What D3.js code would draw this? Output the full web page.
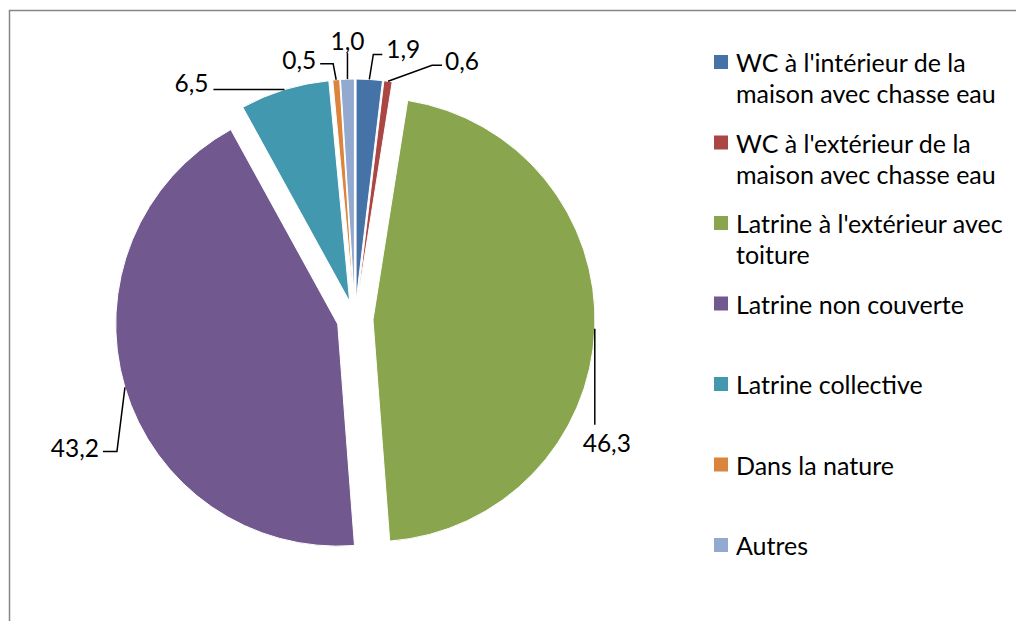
<!DOCTYPE html>
<html>
<head>
<meta charset="utf-8">
<script src="https://cdn.jsdelivr.net/npm/d3@7"></script>
<style>
  body { margin: 0; background: #fff; }
  svg { display: block; }
  text { font-family: Lato, "Noto Sans", sans-serif; fill: #000; }
</style>
</head>
<body>
<div id="chart"></div>
<script>
// Data (percentages)
const categories = [
    "WC à l'intérieur de la maison avec chasse eau",
    "WC à l'extérieur de la maison avec chasse eau",
    "Latrine à l'extérieur avec toiture",
    "Latrine non couverte",
    "Latrine collective",
    "Dans la nature",
    "Autres"
];
const values = [1.9, 0.6, 46.3, 43.2, 6.5, 0.5, 1.0];
const valueLabels = ["1,9", "0,6", "46,3", "43,2", "6,5", "0,5", "1,0"];
const colors = ["#4572A7", "#AA4643", "#89A54E", "#71588F", "#4198AF", "#DB843D", "#93A9CF"];

// leader line layout, relative to the outer middle point of each slice
// bend / end are offsets, text is placed from the end point
const leaderLayout = [
    { bend: [4, -25], end: [13, -25], text: [4, -6], anchor: "start" },
    { bend: [44, -16], end: [54, -16], text: [3, -5], anchor: "start" },
    { bend: [0, 48], end: [0, 96], text: [12, 18], anchor: "middle" },
    { bend: [-8, 64], end: [-22, 64], text: [-4, -4], anchor: "end" },
    { bend: [-35, 0], end: [-71, 0], text: [-5, -7], anchor: "end" },
    { bend: [-3, -16], end: [-16, -16], text: [-4, -4], anchor: "end" },
    { bend: [0, -13], end: [0, -26], text: [0, -13], anchor: "middle" }
];

const width = 1016, height = 621;
const cx = 355, cy = 319, radius = 222, explode = 18;

const svg = d3.select("#chart").append("svg")
    .attr("width", width)
    .attr("height", height);

// chart frame (runs past the right and bottom edges)
svg.append("rect")
    .attr("x", 9.5)
    .attr("y", 10.5)
    .attr("width", 1200)
    .attr("height", 800)
    .attr("fill", "none")
    .attr("stroke", "#868686")
    .attr("stroke-width", 1.5);

const pie = d3.pie().sort(null).value(d => d);
const arcs = pie(values);
const arc = d3.arc().innerRadius(0).outerRadius(radius);

const mid = d => (d.startAngle + d.endAngle) / 2;

const g = svg.append("g").attr("transform", `translate(${cx},${cy})`);

g.selectAll("path.slice")
    .data(arcs)
    .join("path")
    .attr("class", "slice")
    .attr("d", arc)
    .attr("transform", d => {
        const a = mid(d);
        return `translate(${Math.sin(a) * explode},${-Math.cos(a) * explode})`;
    })
    .attr("fill", (d, i) => colors[i])
    .attr("stroke", "#fff")
    .attr("stroke-width", 1);

// data labels with leader lines
arcs.forEach((d, i) => {
    const a = mid(d);
    const r = radius + explode;
    const x0 = Math.sin(a) * r, y0 = -Math.cos(a) * r;
    const lay = leaderLayout[i];
    const x1 = x0 + lay.bend[0], y1 = y0 + lay.bend[1];
    const x2 = x0 + lay.end[0], y2 = y0 + lay.end[1];
    g.append("path")
        .attr("d", d3.line()([[x0, y0], [x1, y1], [x2, y2]]))
        .attr("fill", "none")
        .attr("stroke", "#000")
        .attr("stroke-width", 1.5);
    g.append("text")
        .attr("x", x2 + lay.text[0])
        .attr("y", y2 + lay.text[1])
        .attr("text-anchor", lay.anchor)
        .attr("dominant-baseline", "central")
        .style("font-size", "24.5px")
        .text(valueLabels[i]);
});

// legend
const legend = svg.append("g").attr("transform", "translate(714,62)");
const maxWidth = 285;
const lineH = 31;

categories.forEach((name, i) => {
    const item = legend.append("g").attr("transform", `translate(0,${i * 80.5})`);
    item.append("rect")
        .attr("x", 0)
        .attr("y", -7)
        .attr("width", 14)
        .attr("height", 14)
        .attr("fill", colors[i]);
    const t = item.append("text")
        .attr("x", 22)
        .attr("y", 0)
        .attr("dominant-baseline", "central")
        .style("font-size", "25px");
    // wrap words to the legend width
    const words = name.split(" ");
    let line = [];
    let tspan = t.append("tspan").attr("x", 22).attr("dy", 0);
    words.forEach(w => {
        line.push(w);
        tspan.text(line.join(" "));
        if (tspan.node().getComputedTextLength() > maxWidth && line.length > 1) {
            line.pop();
            tspan.text(line.join(" "));
            line = [w];
            tspan = t.append("tspan").attr("x", 22).attr("dy", lineH).text(w);
        }
    });
});
</script>
</body>
</html>
